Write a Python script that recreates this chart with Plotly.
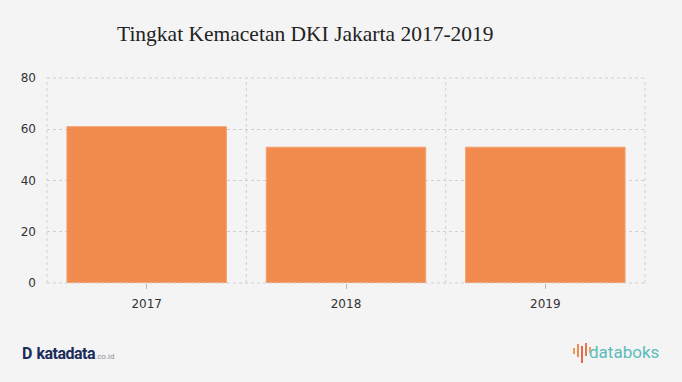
import plotly.graph_objects as go

years = ["2017", "2018", "2019"]
congestion = [61, 53, 53]
y_ticks = [0, 20, 40, 60, 80]

BG = "#f4f4f4"
BAR = "#f28b4e"
GRID = "#d0d0d0"
DASH = "3px,3px"

fig = go.Figure()
fig.add_trace(go.Bar(
    x=years, y=congestion, width=0.8,
    marker=dict(color=BAR, line=dict(color="#f5a170", width=1)),
    hoverinfo="x+y",
))

fig.update_layout(
    width=682, height=382,
    paper_bgcolor=BG, plot_bgcolor=BG,
    margin=dict(l=47, r=37, t=78, b=99, autoexpand=False),
    showlegend=False,
    font=dict(family="DejaVu Sans", size=12, color="#333333"),
    title=dict(
        text="Tingkat Kemacetan DKI Jakarta 2017-2019",
        x=117/682, xanchor="left", xref="container",
        y=1 - 33/382, yanchor="middle", yref="container",
        font=dict(family="Liberation Serif", size=21.5, color="#222222"),
    ),
)

fig.update_xaxes(
    type="category", range=[-0.5, len(years) - 0.5],
    showgrid=False, ticks="outside", ticklen=5, tickcolor="#bbbbbb",
    ticklabelstandoff=5,
    showline=False, tickfont=dict(size=12, color="#333"),
)
fig.update_yaxes(
    range=[0, 80], tickvals=y_ticks,
    showgrid=True, gridcolor=GRID, griddash=DASH, gridwidth=1,
    zeroline=False, showline=False,
    tickfont=dict(size=12, color="#333"),
    ticklabelstandoff=10,
)

# dashed frame around the plot area
for s in [
    dict(x0=0, x1=1, y0=1, y1=1),
    dict(x0=1, x1=1, y0=0, y1=1),
    dict(x0=0, x1=1, y0=0, y1=0),
    dict(x0=0, x1=0, y0=0, y1=1),
]:
    fig.add_shape(type="line", xref="paper", yref="paper",
                  line=dict(color=GRID, width=1, dash=DASH), **s)

# dashed vertical grid lines at category boundaries
for i in range(len(years) - 1):
    fig.add_shape(type="line", xref="x", yref="paper", x0=i + 0.5, x1=i + 0.5,
                  y0=0, y1=1, layer="below",
                  line=dict(color=GRID, width=1, dash=DASH))

# Logos as text
PW, PH = 598, 205
fig.add_annotation(
    xref="paper", yref="paper", x=(20-47)/PW, y=-(353-283)/PH,
    xanchor="left", yanchor="middle", showarrow=False,
    text="<b>D</b> <b style='letter-spacing:-0.5px'>katadata</b><span style='font-size:8px;color:#8a8f9a'>.co.id</span>",
    font=dict(family="Roboto", size=16, color="#1b2b5b"),
)
fig.add_annotation(
    xref="paper", yref="paper", x=(661-47)/PW, y=-(352-283)/PH,
    xanchor="right", yanchor="middle", showarrow=False,
    text="databoks",
    font=dict(family="Roboto", size=17, color="#5bbcb8"),
)
# databoks icon: small vertical strokes
icon = [(574, 348, 354, "#f29a55"), (578, 344, 357, "#ef8a50"), (582, 346, 363, "#e8684a"),
        (586, 343, 356, "#ea7450"), (590, 347, 353, "#f29a55")]
for ix, ya, yb, c in icon:
    fig.add_shape(type="line", xref="paper", yref="paper",
                  x0=(ix-47)/PW, x1=(ix-47)/PW, y0=-(ya-283)/PH, y1=-(yb-283)/PH,
                  line=dict(color=c, width=2))

fig.write_html("out.html", config={"displayModeBar": False},
               post_script="document.body.style.margin='0';document.body.style.background='#f4f4f4';")
